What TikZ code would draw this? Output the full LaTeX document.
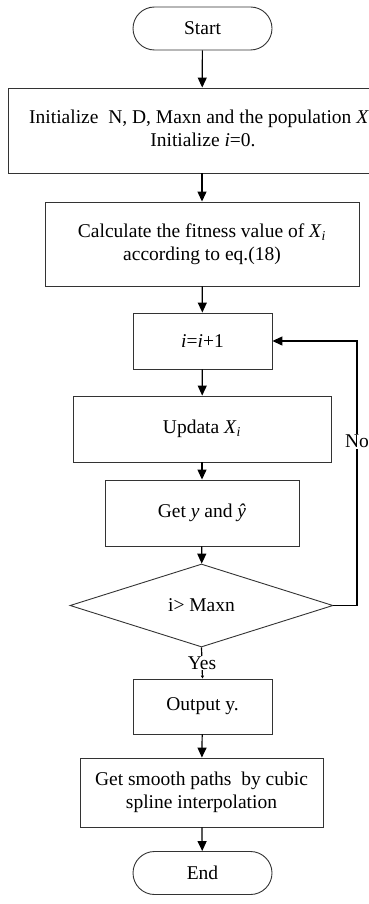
\documentclass[tikz,border=0pt]{standalone}
\usepackage{fontspec}
\setmainfont{Liberation Serif}
\usetikzlibrary{arrows.meta,shapes.geometric}
\begin{document}
\begin{tikzpicture}[x=1pt,y=-1pt,
  every node/.style={font=\fontsize{19.5}{23}\selectfont, inner sep=0pt},
  boxnode/.style={draw=black!80, line width=0.9pt, align=center},
  termnode/.style={boxnode, rounded corners=21.5pt, minimum width=139pt, minimum height=43pt},
  flow/.style={line width=1.2pt, -{Triangle[length=10pt,width=9pt]}},
  lbl/.style={fill=white, inner sep=1pt}]
\useasboundingbox (0,0) rectangle (368,904);
\node[termnode] (start) at (202.5,28.5) {Start};
\node[boxnode, minimum width=388pt, minimum height=85pt] (init) at (202,130.5) {};
\node[anchor=base west] (initA) at (29,124) {Initialize\ \ N, D, Maxn and the population \textit{X}};
\node[anchor=base] (initB) at (203,147) {Initialize \textit{i}=0.};
\node[boxnode, minimum width=314pt, minimum height=84pt] (calc) at (202,244) {Calculate the fitness value of \textit{X}\textsubscript{\textit{i}}\\according to eq.(18)};
\node[boxnode, minimum width=139pt, minimum height=56pt] (inc) at (202.5,341) {\textit{i}=\textit{i}+1};
\node[boxnode, minimum width=258pt, minimum height=66pt] (upd) at (202,429) {Updata \textit{X}\textsubscript{\textit{i}}};
\node[boxnode, minimum width=194pt, minimum height=66pt] (gety) at (202,513) {Get \textit{y} and \textit{ŷ}};
\node[diamond, draw=black!80, line width=0.9pt, minimum width=263pt, minimum height=83pt] (dec) at (201.5,605.5) {i> Maxn};
\node[boxnode, minimum width=139pt, minimum height=55pt] (out) at (202.5,706.5) {Output y.};
\node[boxnode, minimum width=243pt, minimum height=69pt] (smooth) at (201.5,792.5) {Get smooth paths\ \ by cubic\\spline interpolation};
\node[termnode] (end) at (202.5,873) {End};
\coordinate (c1) at (357,605.5);
\coordinate (c2) at (357,341);
\draw[flow] (start) -- (init);
\draw[flow] (init) -- (calc);
\draw[flow] (calc) -- (inc);
\draw[flow] (inc) -- (upd);
\draw[flow] (upd) -- (gety);
\draw[flow] (gety) -- (dec);
\draw[flow] (dec.east) -- (c1) -- node[lbl, pos=0.62] (no) {No} (c2) -- (inc.east);
\draw[line width=1.2pt, -{Triangle[length=3pt,width=3pt]}] (dec.south) -- node[lbl, pos=0.5] (yes) {Yes} (out.north);
\draw[flow] (out) -- (smooth);
\draw[flow] (smooth) -- (end);
\end{tikzpicture}
\end{document}
